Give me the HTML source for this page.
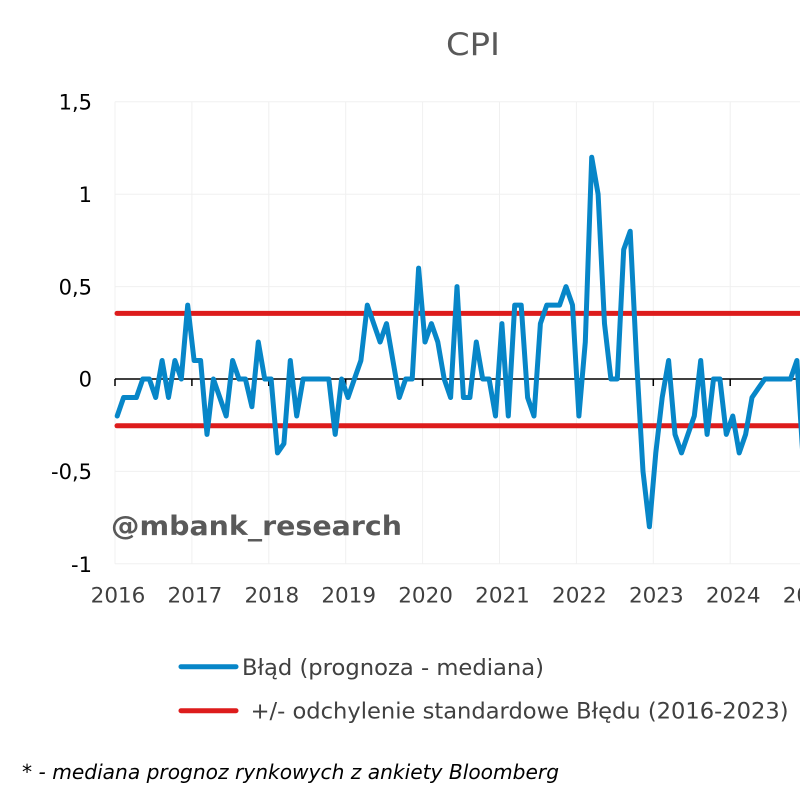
<!DOCTYPE html>
<html>
<head>
<meta charset="utf-8">
<style>
  html, body { margin: 0; padding: 0; background: #ffffff; }
  svg { display: block; }
  text { font-family: "DejaVu Sans", "Liberation Sans", sans-serif; }
</style>
</head>
<body>
<svg width="800" height="800" viewBox="0 0 800 800" xmlns="http://www.w3.org/2000/svg">
  <rect x="0" y="0" width="800" height="800" fill="#ffffff"/>

  <!-- Title -->
  <text x="473" y="55" font-size="31" fill="#595959" text-anchor="middle" textLength="54" lengthAdjust="spacingAndGlyphs">CPI</text>

  <!-- gridlines -->
  <g stroke="#f0f0f0" stroke-width="1">
    <line x1="115" y1="101.8" x2="800" y2="101.8"/>
    <line x1="115" y1="194.2" x2="800" y2="194.2"/>
    <line x1="115" y1="286.6" x2="800" y2="286.6"/>
    <line x1="115" y1="471.4" x2="800" y2="471.4"/>
    <line x1="115" y1="563.8" x2="800" y2="563.8"/>
    <line x1="115" y1="101.8" x2="115" y2="563.8"/>
    <line x1="191.9" y1="101.8" x2="191.9" y2="563.8"/>
    <line x1="268.8" y1="101.8" x2="268.8" y2="563.8"/>
    <line x1="345.7" y1="101.8" x2="345.7" y2="563.8"/>
    <line x1="422.6" y1="101.8" x2="422.6" y2="563.8"/>
    <line x1="499.5" y1="101.8" x2="499.5" y2="563.8"/>
    <line x1="576.4" y1="101.8" x2="576.4" y2="563.8"/>
    <line x1="653.3" y1="101.8" x2="653.3" y2="563.8"/>
    <line x1="730.2" y1="101.8" x2="730.2" y2="563.8"/>
  </g>

  <!-- zero axis with ticks -->
  <g stroke="#000000" stroke-width="1.5">
    <line x1="115" y1="379" x2="800" y2="379"/>
    <line x1="115" y1="379" x2="115" y2="386"/>
    <line x1="191.9" y1="379" x2="191.9" y2="386"/>
    <line x1="268.8" y1="379" x2="268.8" y2="386"/>
    <line x1="345.7" y1="379" x2="345.7" y2="386"/>
    <line x1="422.6" y1="379" x2="422.6" y2="386"/>
    <line x1="499.5" y1="379" x2="499.5" y2="386"/>
    <line x1="576.4" y1="379" x2="576.4" y2="386"/>
    <line x1="653.3" y1="379" x2="653.3" y2="386"/>
    <line x1="730.2" y1="379" x2="730.2" y2="386"/>
  </g>

  <!-- Y labels -->
  <g font-size="21" fill="#000000" text-anchor="end">
    <text x="92" y="109.5">1,5</text>
    <text x="92" y="201.9">1</text>
    <text x="92" y="294.3">0,5</text>
    <text x="92" y="386.7">0</text>
    <text x="92" y="479.1">-0,5</text>
    <text x="92" y="571.8">-1</text>
  </g>

  <!-- X labels -->
  <g font-size="21.5" fill="#404040" text-anchor="middle">
    <text x="118" y="602.3">2016</text>
    <text x="194.9" y="602.3">2017</text>
    <text x="271.8" y="602.3">2018</text>
    <text x="348.7" y="602.3">2019</text>
    <text x="425.6" y="602.3">2020</text>
    <text x="502.5" y="602.3">2021</text>
    <text x="579.4" y="602.3">2022</text>
    <text x="656.3" y="602.3">2023</text>
    <text x="733.2" y="602.3">2024</text>
    <text x="810.1" y="602.3">2025</text>
  </g>

  <!-- watermark -->
  <text x="111" y="535" font-size="27" font-weight="bold" fill="#595959" textLength="291" lengthAdjust="spacingAndGlyphs">@mbank_research</text>

  <!-- red std lines -->
  <g stroke="#dd1c1c" stroke-width="5" stroke-linecap="round">
    <line x1="117" y1="313.4" x2="805" y2="313.4"/>
    <line x1="117" y1="425.8" x2="805" y2="425.8"/>
  </g>

  <!-- blue series -->
  <polyline fill="none" stroke="#0786c8" stroke-width="5" stroke-linejoin="round" stroke-linecap="round"
    points="117.2,416 123.6,397.5 130,397.5 136.4,397.5 142.8,379 149.3,379 155.7,397.5 162.1,360.5 168.5,397.5 174.9,360.5 181.3,379 187.7,305.1 194.1,360.5 200.6,360.5 207,434.4 213.4,379 219.8,397.5 226.2,416 232.6,360.5 239,379 245.4,379 251.9,406.7 258.3,342 264.7,379 271.1,379 277.5,452.9 283.9,443.7 290.3,360.5 296.7,416 303.1,379 309.6,379 316,379 322.4,379 328.8,379 335.2,434.4 341.6,379 348,397.5 354.4,379 360.9,360.5 367.3,305.1 373.7,323.6 380.1,342 386.5,323.6 392.9,360.5 399.3,397.5 405.7,379 412.2,379 418.6,268.1 425,342 431.4,323.6 437.8,342 444.2,379 450.6,397.5 457,286.6 463.4,397.5 469.9,397.5 476.3,342 482.7,379 489.1,379 495.5,416 501.9,323.6 508.3,416 514.7,305.1 521.2,305.1 527.6,397.5 534,416 540.4,323.6 546.8,305.1 553.2,305.1 559.6,305.1 566,286.6 572.5,305.1 578.9,416 585.3,342 591.7,157.2 598.1,194.2 604.5,323.6 610.9,379 617.3,379 623.7,249.6 630.2,231.2 636.6,360.5 643,471.4 649.4,526.8 655.8,452.9 662.2,397.5 668.6,360.5 675,434.4 681.5,452.9 687.9,434.4 694.3,416 700.7,360.5 707.1,434.4 713.5,379 719.9,379 726.3,434.4 732.8,416 739.2,452.9 745.6,434.4 752,397.5 758.4,388.2 764.8,379 771.2,379 777.6,379 784,379 790.5,379 796.9,360.5 803.3,462.2"/>

  <!-- Legend -->
  <line x1="181" y1="666.7" x2="236" y2="666.7" stroke="#0786c8" stroke-width="5" stroke-linecap="round"/>
  <text x="242" y="675" font-size="22" fill="#404040" textLength="302" lengthAdjust="spacingAndGlyphs">Błąd (prognoza - mediana)</text>
  <line x1="181" y1="710.7" x2="236" y2="710.7" stroke="#dd1c1c" stroke-width="5" stroke-linecap="round"/>
  <text x="250.6" y="718.7" font-size="22" fill="#404040" textLength="538" lengthAdjust="spacingAndGlyphs">+/- odchylenie standardowe Błędu (2016-2023)</text>

  <!-- footnote -->
  <text x="22" y="779" font-size="20" font-style="italic" fill="#000000" textLength="537" lengthAdjust="spacingAndGlyphs">* - mediana prognoz rynkowych z ankiety Bloomberg</text>
</svg>
</body>
</html>
